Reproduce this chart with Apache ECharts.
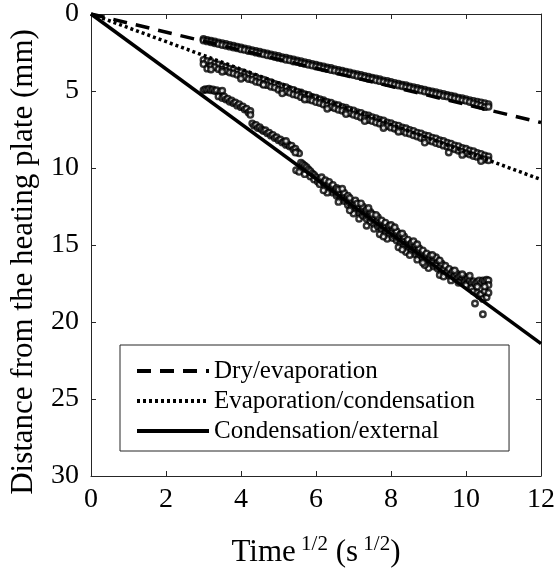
<!DOCTYPE html>
<html>
<head>
<meta charset="utf-8">
<script src="https://cdn.jsdelivr.net/npm/echarts@6/dist/echarts.min.js"></script>
<style>html,body{margin:0;padding:0;background:#fff;}#c{width:558px;height:575px;}</style>
</head>
<body>
<div id="c"></div>
<script>
// ---- data ----
const xTicks = [0, 2, 4, 6, 8, 10, 12];
const yTicks = [0, 5, 10, 15, 20, 25, 30];
const seriesNames = ['Dry/evaporation', 'Evaporation/condensation', 'Condensation/external'];
// fitted front lines through origin: end point at t^1/2 = 12
const dryFit = [[0, 0], [12, 7.05]];
const evapFit = [[0, 0], [12, 10.75]];
const condFit = [[0, 0], [12, 21.4]];

// sampling times (sqrt s) for the two upper fronts
const tSample = [3.0,3.1,3.2,3.3,3.4,3.5,3.6,3.7,3.8,3.9,4.0,4.1,4.2,4.3,4.4,4.5,4.6,4.7,4.8,4.9,5.0,5.1,5.2,5.3,5.4,5.5,5.6,5.7,5.8,5.9,6.0,6.1,6.2,6.3,6.4,6.5,6.6,6.7,6.8,6.9,7.0,7.1,7.2,7.3,7.4,7.5,7.6,7.7,7.8,7.9,8.0,8.1,8.2,8.3,8.4,8.5,8.6,8.7,8.8,8.9,9.0,9.1,9.2,9.3,9.4,9.5,9.6,9.7,9.8,9.9,10.0,10.1,10.2,10.3,10.4,10.5,10.6];
const dryA = [1.62,1.68,1.74,1.79,1.84,1.90,1.95,2.01,2.06,2.12,2.17,2.24,2.28,2.35,2.40,2.45,2.52,2.56,2.63,2.68,2.73,2.80,2.84,2.91,2.95,3.02,3.07,3.13,3.18,3.24,3.29,3.35,3.40,3.47,3.51,3.58,3.63,3.68,3.75,3.79,3.86,3.91,3.96,4.03,4.07,4.14,4.19,4.24,4.31,4.35,4.42,4.47,4.52,4.59,4.63,4.70,4.75,4.80,4.87,4.91,4.98,5.03,5.08,5.15,5.19,5.26,5.31,5.36,5.43,5.47,5.54,5.59,5.64,5.70,5.74,5.80,5.85];
const dryB = [1.72,1.78,1.83,1.90,1.95,2.01,2.06,2.12,2.18,2.22,2.29,2.33,2.40,2.44,2.51,2.57,2.62,2.68,2.73,2.80,2.85,2.90,2.97,3.01,3.08,3.12,3.19,3.24,3.30,3.35,3.41,3.46,3.53,3.57,3.64,3.68,3.75,3.80,3.85,3.92,3.96,4.03,4.08,4.13,4.20,4.24,4.31,4.36,4.41,4.48,4.52,4.59,4.64,4.69,4.76,4.80,4.87,4.92,4.97,5.04,5.08,5.15,5.20,5.25,5.32,5.36,5.43,5.48,5.53,5.60,5.64,5.71,5.80,5.88,5.95,6.05,6.02];
const evapA = [2.98,3.05,3.10,3.22,3.27,3.38,3.44,3.55,3.60,3.72,3.77,3.88,3.93,4.05,4.10,4.21,4.27,4.38,4.43,4.55,4.60,4.71,4.76,4.88,4.93,5.04,5.10,5.21,5.26,5.38,5.43,5.54,5.59,5.71,5.76,5.87,5.93,6.04,6.09,6.21,6.26,6.37,6.42,6.54,6.59,6.70,6.76,6.87,6.92,7.04,7.09,7.20,7.25,7.37,7.42,7.53,7.59,7.70,7.75,7.87,7.92,8.03,8.08,8.20,8.25,8.36,8.42,8.53,8.58,8.70,8.75,8.86,8.91,9.03,9.08,9.19,9.25];
const evapB = [3.25,3.55,3.38,3.45,3.58,3.62,3.70,3.80,3.86,3.95,4.05,4.10,4.22,4.27,4.40,4.45,4.55,4.62,4.72,4.78,4.92,4.96,5.05,5.12,5.22,5.28,5.40,5.45,5.55,5.62,5.72,5.78,5.88,5.95,6.05,6.12,6.22,6.28,6.38,6.45,6.55,6.62,6.72,6.78,6.88,6.95,7.05,7.12,7.22,7.28,7.38,7.45,7.55,7.62,7.72,7.78,7.88,7.95,8.05,8.12,8.22,8.28,8.38,8.45,8.55,8.62,8.72,8.78,8.88,8.95,9.05,9.12,9.22,9.28,9.38,9.45,9.50];
const evapExtra = [[3.2,3.6],[3.5,3.75],[4.6,4.6],[5.7,5.55],[6.8,6.5],[7.3,6.95],[8.2,7.65],[9.54,8.99],[10.4,9.55],[4.0,4.2],[5.1,5.15],[6.3,6.15],[7.8,7.4],[8.9,8.35],[9.9,9.15]];
const condPts = [
[3.0,4.95],[3.05,4.88],[3.1,4.92],[3.15,4.85],[3.2,4.95],[3.25,4.9],[3.3,5.0],[3.35,4.95],[3.45,5.05],[3.5,4.98],
[3.4,5.35],[3.5,5.45],[3.55,5.35],[3.6,5.55],[3.65,5.5],[3.7,5.7],[3.75,5.62],[3.8,5.8],[3.85,5.75],[3.9,5.95],[3.95,5.85],[4.0,6.05],[4.05,6.0],[4.1,6.2],[4.15,6.15],[4.2,6.4],[4.25,6.3],[4.25,6.55],
[4.3,7.1],[4.35,7.25],[4.4,7.2],[4.45,7.4],[4.5,7.35],[4.55,7.5],[4.6,7.6],[4.65,7.55],[4.7,7.75],[4.75,7.7],[4.8,7.9],[4.85,7.85],[4.9,8.05],[4.95,8.0],[5.0,8.2],[5.05,8.15],[5.1,8.35],[5.15,8.3],[5.2,8.5],[5.25,8.45],[5.3,8.6],[5.35,8.55],[5.4,8.8],[5.45,8.75],[5.5,8.95],[5.55,9.05],[5.2,8.25],[5.45,9.0],
[5.6,9.65],[5.65,9.75],[5.7,9.85],[5.75,9.95],[5.8,10.1],[5.85,10.2],[5.9,10.35],[5.95,10.45],[6.0,10.6],[5.47,10.15],[5.55,10.25],[5.7,10.4],[5.85,10.55],[5.95,10.75],[6.05,10.9],
[6.1,10.75],[6.1,11.05],[6.15,10.6],[6.2,10.95],[6.25,11.2],[6.25,10.8],[6.3,11.15],[6.35,11.4],[6.35,10.9],[6.4,11.35],[6.45,11.6],[6.45,11.1],
[6.5,11.5],[6.55,11.8],[6.55,11.3],[6.6,11.7],[6.65,12.0],[6.6,11.4],[6.7,11.9],[6.75,12.15],[6.75,11.6],[6.8,12.05],[6.85,12.4],[6.85,11.8],
[6.9,12.25],[6.95,12.55],[6.9,11.95],[7.0,12.4],[7.05,12.75],[7.05,12.1],[7.1,12.6],[7.15,12.9],[7.1,12.3],[7.15,13.3],
[7.2,12.8],[7.25,13.1],[7.25,12.5],[7.3,12.95],[7.35,13.3],[7.35,12.7],[7.4,13.15],[7.45,13.5],[7.45,12.85],
[7.5,13.3],[7.55,13.65],[7.5,13.0],[7.55,13.95],[7.6,13.5],[7.65,13.8],[7.65,13.2],[7.7,13.7],[7.75,14.0],[7.75,13.4],
[7.8,13.85],[7.85,14.2],[7.85,13.55],[7.9,14.05],[7.95,14.35],[7.95,13.75],[7.9,14.6],[8.0,14.2],[8.05,14.55],[8.05,13.9],
[8.1,14.4],[8.15,14.7],[8.15,14.1],[8.2,14.55],[8.25,14.9],[8.25,14.3],[8.2,15.15],[8.3,14.75],[8.35,15.05],[8.35,14.45],
[8.4,14.95],[8.45,15.25],[8.45,14.65],[8.4,15.45],[8.5,15.1],[8.55,15.4],[8.55,14.85],[8.6,15.3],[8.65,15.6],[8.65,15.0],
[8.7,15.45],[8.75,15.75],[8.75,15.2],[8.7,15.95],[8.8,15.65],[8.85,15.9],[8.85,15.35],[8.9,15.8],[8.95,16.1],[8.95,15.55],
[9.0,15.95],[9.05,16.25],[9.05,15.7],[9.0,16.5],[9.1,16.1],[9.15,16.4],[9.15,15.85],[9.2,16.3],[9.25,16.55],[9.25,16.0],
[9.3,16.45],[9.35,16.7],[9.35,16.2],[9.3,16.95],[9.4,16.6],[9.45,16.85],[9.45,16.35],[9.5,16.75],[9.55,17.0],[9.55,16.55],
[9.6,16.9],[9.65,17.1],[9.65,16.7],[9.7,17.0],[9.75,17.2],[9.75,16.85],[9.8,17.1],[9.85,17.3],[9.85,17.0],[9.9,17.2],[9.95,17.35],[9.95,17.05],
[10.0,17.25],[10.05,17.4],[10.05,17.15],[10.0,17.6],[10.1,17.3],[10.15,17.45],[10.15,17.8],[10.2,17.35],[10.25,17.5],[10.24,18.8],[10.2,18.0],
[10.3,17.4],[10.35,17.3],[10.3,18.1],[10.35,18.3],[10.4,17.45],[10.45,17.3],[10.4,18.2],[10.45,19.5],[10.45,18.5],
[10.5,17.35],[10.55,17.25],[10.5,18.0],[10.55,18.4],[10.6,17.3],[10.6,17.6],[10.6,18.1],
[6.3,11.6],[6.7,11.35],[7.0,12.95],[7.4,12.6],[7.7,14.3],[8.0,13.7],[8.3,15.3],[8.6,14.75],[8.9,16.3],[9.2,15.8],[9.6,17.3],[9.9,16.9],
[6.2,11.45],[6.6,12.2],[6.9,12.75],[7.2,12.3],[7.35,13.75],[7.6,13.05],[7.8,14.45],[8.1,13.85],[8.3,14.25],[8.5,15.65],[8.7,14.95],[8.85,16.15],[9.1,15.65],[9.3,16.0],[9.4,17.05],[9.7,16.65],[9.8,17.45],[10.1,17.0],[10.3,17.7],[10.5,17.7]
];

// ---- build ----
const pairs = (xs, ys) => xs.map((x, i) => [x, ys[i]]);
const dryPts = pairs(tSample, dryA).concat(pairs(tSample, dryB));
const evapPts = pairs(tSample, evapA).concat(pairs(tSample, evapB)).concat(evapExtra);

const FONT = '"Liberation Serif", "Times New Roman", serif';
const AX = '#262626';
const chart = echarts.init(document.getElementById('c'), null, {renderer: 'canvas'});

const scatterStyle = {
  type: 'scatter', symbol: 'circle', symbolSize: 5.5,
  itemStyle: {color: '#fff', borderColor: '#000', borderWidth: 2.4},
  silent: true, z: 2
};
function lineSeries(name, data, type) {
  return {
    name, type: 'line', data, symbol: 'none', showSymbol: false, z: 3,
    lineStyle: {color: '#000', width: 3.5, type, cap: 'butt'},
    itemStyle: {color: '#000'}
  };
}

const option = {
  animation: false,
  backgroundColor: '#fff',
  grid: {left: 90, right: 12, top: 12, bottom: 99, containLabel: false},
  legend: {
    data: seriesNames,
    orient: 'vertical', left: 120, top: 345,
    itemWidth: 72, itemHeight: 14, itemGap: 2,
    padding: [12, 34, 6, 15],
    backgroundColor: '#fff',
    borderColor: AX, borderWidth: 1,
    itemStyle: {opacity: 0},
    lineStyle: {width: 4},
    textStyle: {fontFamily: FONT, fontSize: 25, color: '#000', lineHeight: 28}
  },
  xAxis: [{
    type: 'value', min: 0, max: 12, interval: 2, position: 'bottom',
    axisLine: {show: true, onZero: false, lineStyle: {color: AX, width: 1}},
    axisTick: {show: true, inside: true, length: 5, lineStyle: {color: AX}},
    splitLine: {show: false},
    axisLabel: {fontFamily: FONT, fontSize: 28, color: '#000', margin: 10,
      formatter: v => xTicks.includes(v) ? String(v) : ''},
    name: '{a|Time}{s| 1/2}{a| (s}{s| 1/2}{a|)}',
    nameLocation: 'middle', nameGap: 58,
    nameTextStyle: {fontFamily: FONT, fontSize: 31, color: '#000',
      rich: {
        a: {fontFamily: FONT, fontSize: 31, color: '#000', lineHeight: 34, verticalAlign: 'bottom'},
        s: {fontFamily: FONT, fontSize: 21, color: '#000', lineHeight: 34, verticalAlign: 'top'}
      }}
  }, {
    type: 'value', min: 0, max: 12, interval: 2, position: 'top',
    axisLine: {show: true, onZero: false, lineStyle: {color: AX, width: 1}},
    axisTick: {show: true, inside: true, length: 5, lineStyle: {color: AX}},
    axisLabel: {show: false}, splitLine: {show: false}
  }],
  yAxis: [{
    type: 'value', min: 0, max: 30, interval: 5, inverse: true, position: 'left',
    axisLine: {show: true, onZero: false, lineStyle: {color: AX, width: 1}},
    axisTick: {show: true, inside: true, length: 5, lineStyle: {color: AX}},
    splitLine: {show: false},
    axisLabel: {fontFamily: FONT, fontSize: 28, color: '#000', margin: 12,
      formatter: v => yTicks.includes(v) ? String(v) : ''},
    name: 'Distance from the heating plate (mm)',
    nameLocation: 'middle', nameGap: 52, nameRotate: 90,
    nameTextStyle: {fontFamily: FONT, fontSize: 31, color: '#000', padding: [0, 34, 0, 0]}
  }, {
    type: 'value', min: 0, max: 30, interval: 5, inverse: true, position: 'right',
    axisLine: {show: true, onZero: false, lineStyle: {color: AX, width: 1}},
    axisTick: {show: true, inside: true, length: 5, lineStyle: {color: AX}},
    axisLabel: {show: false}, splitLine: {show: false}
  }],
  series: [
    Object.assign({name: 'dryData', data: dryPts}, scatterStyle),
    Object.assign({name: 'evapData', data: evapPts}, scatterStyle),
    Object.assign({name: 'condData', data: condPts}, scatterStyle),
    lineSeries(seriesNames[0], dryFit, [14, 9]),
    lineSeries(seriesNames[1], evapFit, [3, 3]),
    lineSeries(seriesNames[2], condFit, 'solid')
  ]
};
chart.setOption(option);
</script>
</body>
</html>
